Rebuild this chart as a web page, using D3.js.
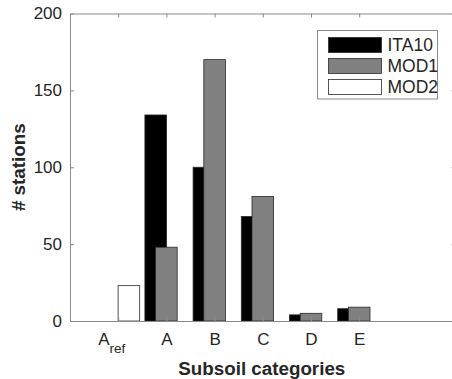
<!DOCTYPE html>
<html>
<head>
<meta charset="utf-8">
<script src="https://cdn.jsdelivr.net/npm/d3@7"></script>
<style>
  body { margin: 0; background: #fff; }
  text { font-family: "Liberation Sans", Arial, Helvetica, sans-serif; }
</style>
</head>
<body>
<div id="chart"></div>
<script>
let categories = ['A', 'A', 'B', 'C', 'D', 'E'];
let seriesNames = ['ITA10', 'MOD1', 'MOD2'];
let ita10 = [0, 134, 100, 68, 4, 8];
let mod1 = [0, 48, 170, 81, 5, 9];
let mod2 = [23, 0, 0, 0, 0, 0];
let yTicks = [0, 50, 100, 150, 200];
let colors = ['#000000', '#808080', '#ffffff'];

let width = 452, height = 379;
let margin = {top: 13.5, right: -3.6, bottom: 58, left: 70};

let x = d3.scaleLinear().domain([0, 8]).range([margin.left, width - margin.right]);
let y = d3.scaleLinear().domain([0, 200]).range([height - margin.bottom, margin.top]);

let svg = d3.select('#chart')
  .append('svg')
  .attr('width', width)
  .attr('height', height);

let series = [ita10, mod1, mod2];
let offsets = [-0.222, 0, 0.222];
let barW = 0.448;

series.forEach((vals, s) => {
  svg.append('g')
    .attr('class', 'bars')
    .selectAll('rect')
    .data(vals)
    .enter()
    .append('rect')
    .attr('x', (d, i) => x(i + 1 + offsets[s] - barW / 2))
    .attr('width', x(barW) - x(0))
    .attr('y', d => y(d))
    .attr('height', d => y(0) - y(d))
    .attr('fill', colors[s])
    .attr('stroke', '#2a2a2a')
    .attr('stroke-width', 0.8);
});

let axisColor = '#8a8a8a';
let textColor = '#262626';

// bottom axis
let xb = svg.append('g')
  .attr('transform', `translate(0,${y(0)})`)
  .call(d3.axisBottom(x).tickValues([1, 2, 3, 4, 5, 6]).tickSizeInner(-4).tickSizeOuter(0).tickFormat((d, i) => categories[i]));
xb.selectAll('text')
  .attr('y', 23.5)
  .attr('dy', 0)
  .attr('font-size', 17)
  .attr('fill', textColor);
xb.selectAll('.tick').filter(d => d === 1).select('text')
  .attr('text-anchor', 'middle')
  .attr('dx', -7)
  .append('tspan')
  .attr('font-size', 13.5)
  .attr('dy', 8.5)
  .text('ref');

// top axis
svg.append('g')
  .attr('transform', `translate(0,${y(200)})`)
  .call(d3.axisTop(x).tickValues([1, 2, 3, 4, 5, 6]).tickSizeInner(-4).tickSizeOuter(0).tickFormat(''));

// left axis
let yl = svg.append('g')
  .attr('transform', `translate(${x(0)},0)`)
  .call(d3.axisLeft(y).tickValues(yTicks).tickSizeInner(-4).tickSizeOuter(0));
yl.selectAll('text')
  .attr('x', -8)
  .attr('font-size', 17)
  .attr('fill', textColor);

// right axis
svg.append('g')
  .attr('transform', `translate(${x(8)},0)`)
  .call(d3.axisRight(y).tickValues(yTicks).tickSizeInner(-4).tickSizeOuter(0).tickFormat(''));

svg.selectAll('.domain, .tick line').attr('stroke', axisColor);
svg.selectAll('.tick text').attr('font-family', '"Liberation Sans", Arial, sans-serif');

// axis labels
svg.append('text')
  .attr('x', (x(0) + x(8)) / 2 - 1)
  .attr('y', 374.5)
  .attr('text-anchor', 'middle')
  .attr('font-size', 18.8)
  .attr('font-weight', 'bold')
  .attr('fill', textColor)
  .text('Subsoil categories');

svg.append('text')
  .attr('transform', `translate(25,${(y(0) + y(200)) / 2}) rotate(-90)`)
  .attr('text-anchor', 'middle')
  .attr('font-size', 18.8)
  .attr('font-weight', 'bold')
  .attr('fill', textColor)
  .text('# stations');

// legend
let legend = svg.append('g').attr('transform', 'translate(317.5,30.5)');
legend.append('rect')
  .attr('width', 120)
  .attr('height', 68.5)
  .attr('fill', '#fff')
  .attr('stroke', axisColor);
seriesNames.forEach((name, i) => {
  legend.append('rect')
    .attr('x', 11)
    .attr('y', 7 + i * 21)
    .attr('width', 53)
    .attr('height', 15)
    .attr('fill', colors[i])
    .attr('stroke', '#2a2a2a')
    .attr('stroke-width', 0.8);
  legend.append('text')
    .attr('x', 70)
    .attr('y', 7 + i * 21 + 7.5)
    .attr('dy', '0.36em')
    .attr('font-size', 17.5)
    .attr('fill', textColor)
    .text(name);
});
</script>
</body>
</html>
